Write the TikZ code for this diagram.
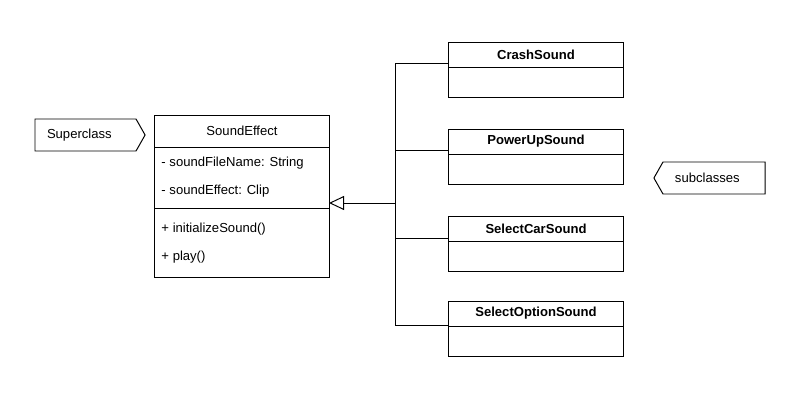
\documentclass[tikz,border=0pt]{standalone}
\usepackage{fontspec}
\setmainfont{Liberation Sans}
\usetikzlibrary{arrows.meta,shapes.symbols}

\begin{document}
\begin{tikzpicture}[x=0.025cm,y=-0.025cm,line width=0.7pt,font=\fontsize{9.3}{11}\selectfont]

\useasboundingbox (0,0) rectangle (800,400);

% labels
\begin{scope}[every node/.style={draw,signal,minimum height=0.8cm,inner xsep=0.3cm,inner ysep=0pt,outer sep=0pt,signal pointer angle=121,align=left}]
\node[signal to=east,text width=1.925cm,anchor=west] (superL) at (35,135) {Superclass};
\node[signal to=west,text width=1.95cm,anchor=east] (subL) at (765,178) {subclasses};
\end{scope}

% superclass
\begin{scope}[every node/.style={draw,rectangle,minimum width=4.35cm,inner sep=0pt,outer sep=0pt}]
\node[minimum height=0.8cm] (se) at (242,131) {SoundEffect};
\node[minimum height=1.525cm] (seA) at (242,177.5) {};
\node[minimum height=1.725cm] (seM) at (242,242.75) {};
\end{scope}

\begin{scope}[every node/.style={anchor=west,inner sep=0pt}]
\node (attr1) at (161,163) {- soundFileName: String};
\node (attr2) at (161,191.5) {- soundEffect: Clip};
\node (meth1) at (161,229) {+ initializeSound()};
\node (meth2) at (161,257) {+ play()};
\end{scope}

% subclasses
\begin{scope}[every node/.style={draw,rectangle,minimum width=4.35cm,inner sep=0pt,outer sep=0pt}]
\node[minimum height=0.625cm,font=\fontsize{9.3}{11}\selectfont\bfseries] (crash) at (536,54.5) {CrashSound};
\node[minimum height=0.75cm] (crashB) at (536,82) {};
\node[minimum height=0.625cm,font=\fontsize{9.3}{11}\selectfont\bfseries] (power) at (536,141.5) {PowerUpSound};
\node[minimum height=0.75cm] (powerB) at (536,169) {};
\node[minimum height=0.625cm,font=\fontsize{9.3}{11}\selectfont\bfseries] (selcar) at (536,228.5) {SelectCarSound};
\node[minimum height=0.75cm] (selcarB) at (536,256) {};
\node[minimum height=0.625cm,font=\fontsize{9.3}{11}\selectfont\bfseries] (selopt) at (536,313.5) {SelectOptionSound};
\node[minimum height=0.75cm] (seloptB) at (536,341) {};
\end{scope}

\coordinate (joint) at (395,203);

\begin{scope}[line width=0.7pt]
\draw ([yshift=0.1cm]crash.south west) -| (joint);
\draw ([yshift=0.1cm]power.south west) -| (joint);
\draw ([yshift=0.075cm]selcar.south west) -| (joint);
\draw ([yshift=0.025cm]selopt.south west) -| (joint);
\draw[-{Triangle[open,length=0.375cm,width=0.35cm]}] (joint) -- (se.east |- joint);
\end{scope}

\end{tikzpicture}
\end{document}
